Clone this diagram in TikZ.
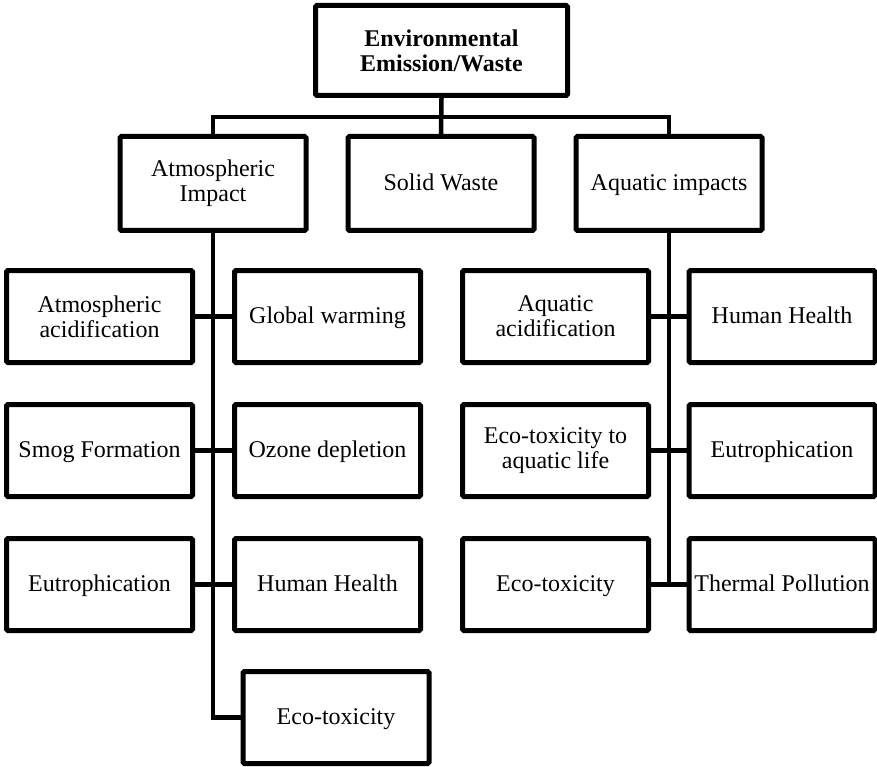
\documentclass[tikz,border=0pt]{standalone}
\usepackage{fontspec}
\setmainfont{Liberation Serif}
\begin{document}
\begin{tikzpicture}[x=1pt,y=-1pt,
  box/.style={draw, line width=5pt, rounded corners=1.5pt, rectangle,
    minimum width=186pt, minimum height=92pt, inner sep=0pt, align=center,
    font=\fontsize{24}{25}\selectfont},
  oneline/.style={box, text height=17pt, text depth=3pt},
  link/.style={line width=4.5pt}]
\useasboundingbox (0,0) rectangle (877,767);

% root
\node[box, minimum width=252pt, minimum height=90pt,
  font=\fontsize{24}{25}\selectfont\bfseries] (root) at (441.5,50.5)
  {Environmental\\Emission/Waste};

% second level
\node[box, minimum height=94pt] (atm) at (213,183.5) {Atmospheric\\Impact};
\node[oneline, minimum height=94pt] (solid) at (441,183.5) {Solid Waste};
\node[oneline, minimum height=94pt] (aqu) at (669,183.5) {Aquatic impacts};

% atmospheric branch
\node[box] (aacid) at (99.5,316.5) {Atmospheric\\acidification};
\node[oneline] (gw) at (327.5,316.5) {Global warming};
\node[oneline] (smog) at (99.5,450.5) {Smog Formation};
\node[oneline] (ozone) at (327.5,450.5) {Ozone depletion};
\node[oneline] (eutL) at (99.5,584.5) {Eutrophication};
\node[oneline] (hhL) at (327.5,584.5) {Human Health};
\node[oneline] (ecoL) at (336,717.5) {Eco-toxicity};

% aquatic branch
\node[box] (qacid) at (555.5,316.5) {Aquatic\\acidification};
\node[oneline] (hhR) at (782,316.5) {Human Health};
\node[box] (ecoaq) at (555.5,450.5) {Eco-toxicity to\\aquatic life};
\node[oneline] (eutR) at (782,450.5) {Eutrophication};
\node[oneline] (ecoR) at (555.5,584.5) {Eco-toxicity};
\node[oneline] (thermal) at (782,584.5) {Thermal Pollution};

% bus from the root to the second level
\coordinate (bus) at (441,117);
\draw[link] (root.south) -- (solid.north);
\draw[link] (atm.north) |- (bus) -| (aqu.north);

% atmospheric trunk
\coordinate (atmEnd) at (atm.south |- ecoL.west);
\draw[link] (atm.south) -- (atmEnd) -- (ecoL.west);
\draw[link] (aacid.east) -- (gw.west);
\draw[link] (smog.east) -- (ozone.west);
\draw[link] (eutL.east) -- (hhL.west);

% aquatic trunk
\coordinate (aquEnd) at (aqu.south |- ecoR.east);
\draw[link] (aqu.south) -- (aquEnd);
\draw[link] (qacid.east) -- (hhR.west);
\draw[link] (ecoaq.east) -- (eutR.west);
\draw[link] (ecoR.east) -- (thermal.west);
\end{tikzpicture}
\end{document}
